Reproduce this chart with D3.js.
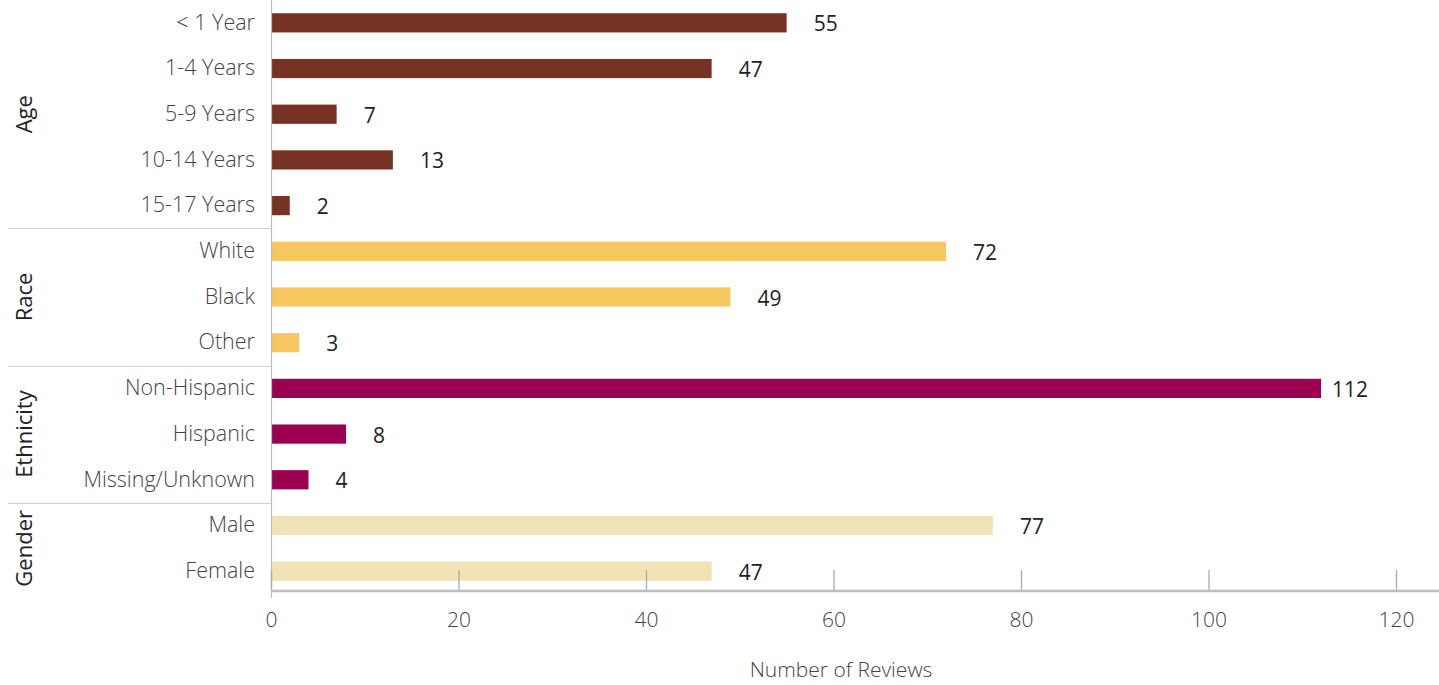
<!DOCTYPE html>
<html>
<head>
<meta charset="utf-8">
<script src="https://cdn.jsdelivr.net/npm/d3@7"></script>
<style>
  html, body { margin: 0; padding: 0; background: #fff; }
  svg { display: block; font-family: "Open Sans", "Noto Sans", sans-serif; }
</style>
</head>
<body>
<svg id="chart" width="1439" height="685"></svg>
<script>
// Review counts by demographic group
const groups = ["Age", "Race", "Ethnicity", "Gender"];
const categories = [
  "< 1 Year", "1-4 Years", "5-9 Years", "10-14 Years", "15-17 Years",
  "White", "Black", "Other",
  "Non-Hispanic", "Hispanic", "Missing/Unknown",
  "Male", "Female"
];
const categoryGroup = [
  "Age", "Age", "Age", "Age", "Age",
  "Race", "Race", "Race",
  "Ethnicity", "Ethnicity", "Ethnicity",
  "Gender", "Gender"
];
const values = [55, 47, 7, 13, 2, 72, 49, 3, 112, 8, 4, 77, 47];
const groupColors = ["#763222", "#f7c85d", "#9c0051", "#f0e3b6"];
const xTicks = [0, 20, 40, 60, 80, 100, 120];

const svg = d3.select("#chart");
const plotLeft = 271, plotRight = 1396, plotTop = 0, plotBottom = 594;

const x = d3.scaleLinear().domain([0, 120]).range([plotLeft, plotRight]);
const y = d3.scaleBand().domain(categories).range([plotTop, plotBottom]).paddingInner(0.58).paddingOuter(0.29);
const color = d3.scaleOrdinal().domain(groups).range(groupColors);

const rows = categories.map((c, i) => ({ cat: c, group: categoryGroup[i], value: values[i] }));
const maxValue = d3.max(values);

// bars
svg.append("g").selectAll("rect").data(rows).join("rect")
  .attr("x", x(0))
  .attr("y", d => y(d.cat))
  .attr("width", d => x(d.value) - x(0))
  .attr("height", y.bandwidth())
  .attr("fill", d => color(d.group));

// value labels (the longest bar keeps its label tucked in closer)
svg.append("g").selectAll("text").data(rows).join("text")
  .attr("x", d => x(d.value) + (d.value === maxValue ? 11 : 27))
  .attr("y", d => y(d.cat) + y.bandwidth() / 2 + 1)
  .attr("dy", "0.36em")
  .attr("font-size", 21)
  .attr("fill", "#222")
  .text(d => d.value);

// category labels
svg.append("g").selectAll("text").data(rows).join("text")
  .attr("x", 255)
  .attr("y", d => y(d.cat) + y.bandwidth() / 2 - 1)
  .attr("dy", "0.36em")
  .attr("text-anchor", "end")
  .attr("font-size", 21.5)
  .attr("font-weight", 300)
  .attr("fill", "#444")
  .text(d => d.cat);

// group separators and rotated group titles
const step = y.step();
groups.forEach((g, gi) => {
  const members = rows.filter(r => r.group === g);
  const first = y(members[0].cat) + y.bandwidth() / 2;
  const last = y(members[members.length - 1].cat) + y.bandwidth() / 2;
  if (gi > 0) {
    const sepY = Math.round(first - step / 2) + 0.5;
    svg.append("line")
      .attr("x1", 8).attr("x2", plotLeft)
      .attr("y1", sepY).attr("y2", sepY)
      .attr("stroke", "#cfcfcf").attr("stroke-width", 1.2);
  }
  const cy = (first + last) / 2;
  svg.append("text")
    .attr("transform", `translate(24,${cy}) rotate(-90)`)
    .attr("text-anchor", "middle")
    .attr("dy", "0.36em")
    .attr("font-size", 22)
    .attr("fill", "#222")
    .text(g);
});

// vertical baseline
svg.append("line")
  .attr("x1", plotLeft + 0.5).attr("x2", plotLeft + 0.5)
  .attr("y1", 0).attr("y2", 598)
  .attr("stroke", "#bdbdbd").attr("stroke-width", 1.2);

// bottom axis
const axisY = 591;
const axis = d3.axisBottom(x).tickValues(xTicks).tickSize(0).tickPadding(21);
const ag = svg.append("g").attr("transform", `translate(0,${axisY})`).call(axis);
ag.select(".domain").remove();
ag.append("line")
  .attr("x1", plotLeft).attr("x2", 1439)
  .attr("y1", 0).attr("y2", 0)
  .attr("stroke", "#bdbdbd").attr("stroke-width", 2.5);
ag.selectAll(".tick").append("line")
  .attr("y1", 0).attr("y2", -21)
  .attr("stroke", "#aaa").attr("stroke-width", 1.3);
ag.selectAll(".tick text")
  .attr("font-size", 21)
  .attr("font-weight", 300)
  .attr("fill", "#444")
  .attr("font-family", "'Open Sans', sans-serif");

// axis title
svg.append("text")
  .attr("x", 841).attr("y", 669)
  .attr("dy", "0.36em")
  .attr("text-anchor", "middle")
  .attr("font-size", 21)
  .attr("font-weight", 300)
  .attr("fill", "#444")
  .text("Number of Reviews");
</script>
</body>
</html>
